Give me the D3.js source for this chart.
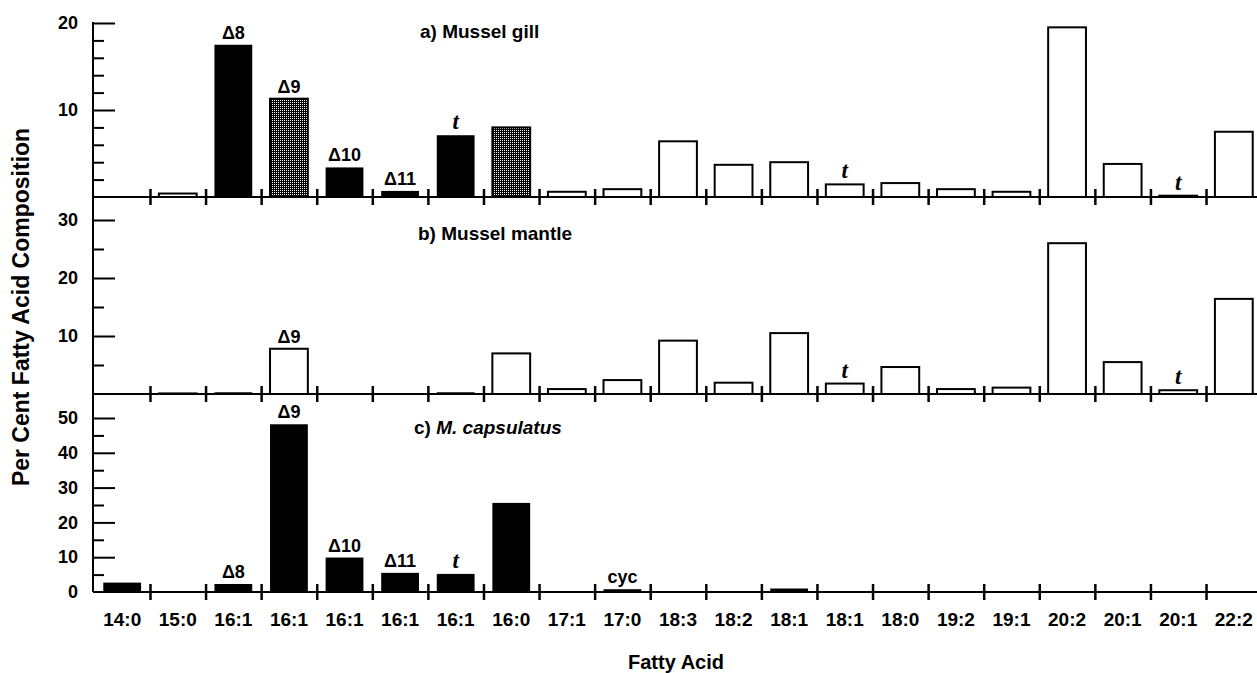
<!DOCTYPE html>
<html>
<head>
<meta charset="utf-8">
<script src="https://cdn.jsdelivr.net/npm/d3@7"></script>
<style>
body { margin: 0; background: #fff; }
text { font-family: "Liberation Sans", Arial, sans-serif; font-weight: bold; fill: #000; }
</style>
</head>
<body>
<svg id="chart" width="1257" height="673"></svg>
<script>
// categorias del eje x (se repiten los isomeros 16:1, 18:1, 20:1)
var categorias = ["14:0","15:0","16:1","16:1","16:1","16:1","16:1","16:0","17:1","17:0","18:3",
                  "18:2","18:1","18:1","18:0","19:2","19:1","20:2","20:1","20:1","22:2"];

// a) Mussel gill
var branquia = [0, 0.4, 17.5, 11.3, 3.4, 0.7, 7.1, 8.0, 0.6, 0.9, 6.4, 3.7, 4.0, 1.45, 1.6, 0.9, 0.6, 19.5, 3.8, 0.15, 7.5];
var rellenoBranquia = ["o","o","k","s","k","k","k","s","o","o","o","o","o","o","o","o","o","o","o","o","o"];
var notasBranquia = [[2,"Δ8"],[3,"Δ9"],[4,"Δ10"],[5,"Δ11"],[6,"t"],[13,"t"],[19,"t"]];

// b) Mussel mantle
var manto = [0, 0.1, 0.3, 7.8, 0.15, 0.15, 0.3, 7.0, 0.85, 2.4, 9.2, 1.95, 10.5, 1.8, 4.65, 0.85, 1.1, 26.0, 5.5, 0.65, 16.4];
var rellenoManto = ["o","o","k","o","k","k","k","o","o","o","o","o","o","o","o","o","o","o","o","o","o"];
var notasManto = [[3,"Δ9"],[13,"t"],[19,"t"]];

// c) M. capsulatus
var capsulatus = [2.7, 0, 2.3, 48.2, 9.9, 5.5, 5.2, 25.6, 0, 0.8, 0.1, 0, 1.0, 0.1, 0.1, 0, 0, 0, 0, 0, 0];
var notasCapsulatus = [[2,"Δ8"],[3,"Δ9"],[4,"Δ10"],[5,"Δ11"],[6,"t"],[9,"cyc"]];

var svg = d3.select("#chart");
var ejeX = 93, derecha = 1257;

var x = d3.scaleBand()
  .domain(d3.range(categorias.length))
  .range([94.4, 1261.6])
  .paddingInner(0.32)
  .paddingOuter(0.16);

// escala continua para las marcas entre categorias (limites de cada banda)
var xLimites = d3.scaleLinear()
  .domain([0, categorias.length])
  .range(x.range());

// patron punteado para las barras grises
var pat = svg.append("defs").append("pattern")
  .attr("id", "punteado").attr("width", 2).attr("height", 2)
  .attr("patternUnits", "userSpaceOnUse");
pat.append("rect").attr("width", 2).attr("height", 2).attr("fill", "#000");
pat.append("rect").attr("width", 1).attr("height", 1).attr("fill", "#fff");

var paneles = [
  { valores: branquia, relleno: rellenoBranquia, notas: notasBranquia,
    y: d3.scaleLinear().domain([0, 20]).range([197, 23]), techo: 23,
    mayores: [10, 20], menores: [2, 4, 6, 8, 12, 14, 16, 18], etiquetas: [10, 20],
    titulo: [["a) Mussel gill", "normal"]], tx: 420, ty: 38 },
  { valores: manto, relleno: rellenoManto, notas: notasManto,
    y: d3.scaleLinear().domain([0, 30]).range([394, 220]), techo: 197,
    mayores: [10, 20, 30], menores: [5, 15, 25], etiquetas: [10, 20, 30],
    titulo: [["b) Mussel mantle", "normal"]], tx: 418, ty: 240 },
  { valores: capsulatus, relleno: capsulatus.map(function() { return "k"; }), notas: notasCapsulatus,
    y: d3.scaleLinear().domain([0, 50]).range([592, 418]), techo: 394,
    mayores: [0, 10, 20, 30, 40, 50], menores: [5, 15, 25, 35, 45], etiquetas: [0, 10, 20, 30, 40, 50],
    titulo: [["c) ", "normal"], ["M. capsulatus", "italic"]], tx: 414, ty: 434 }
];

paneles.forEach(function(p) {
  var y = p.y;
  var base = y(0);
  var g = svg.append("g");

  // barras
  g.selectAll(".barra")
    .data(p.valores.map(function(v, i) { return {i: i, v: v, f: p.relleno[i]}; })
      .filter(function(d) { return d.v > 0; }))
    .enter().append("rect")
    .attr("class", "barra")
    .attr("x", function(d) { return x(d.i); })
    .attr("width", x.bandwidth())
    .attr("y", function(d) { return y(d.v); })
    .attr("height", function(d) { return base - y(d.v); })
    .attr("fill", function(d) { return d.f == "k" ? "#000" : (d.f == "s" ? "url(#punteado)" : "#fff"); })
    .attr("stroke", "#000")
    .attr("stroke-width", function(d) { return d.f == "k" ? 0 : 2; });

  // notas sobre las barras
  g.selectAll(".nota")
    .data(p.notas)
    .enter().append("text")
    .attr("class", "nota")
    .attr("x", function(d) { return x(d[0]) + x.bandwidth() / 2; })
    .attr("y", function(d) { return y(p.valores[d[0]]) - 6; })
    .attr("text-anchor", "middle")
    .style("font-size", function(d) { return d[1] == "t" ? "23px" : "18px"; })
    .style("font-style", function(d) { return d[1] == "t" ? "italic" : "normal"; })
    .style("font-family", function(d) { return d[1] == "t" ? "'Liberation Serif', serif" : null; })
    .text(function(d) { return d[1]; });

  // linea base
  g.append("line")
    .attr("x1", ejeX).attr("x2", derecha)
    .attr("y1", base).attr("y2", base)
    .attr("stroke", "#000").attr("stroke-width", 2);

  // marcas entre categorias (cruzan la linea base)
  var marcas = g.append("g")
    .attr("transform", "translate(0," + (base - 8) + ")")
    .call(d3.axisBottom(xLimites).tickValues(d3.range(1, categorias.length)).tickSize(16).tickFormat(""));
  marcas.select(".domain").remove();
  marcas.selectAll("line").attr("stroke", "#000").attr("stroke-width", 2.5);

  // eje y: marcas mayores, menores y numeros
  var mayor = g.append("g").attr("transform", "translate(" + ejeX + ",0)")
    .call(d3.axisRight(y).tickValues(p.mayores.filter(function(v) { return v > 0; })).tickSize(22).tickFormat(""));
  var menor = g.append("g").attr("transform", "translate(" + ejeX + ",0)")
    .call(d3.axisRight(y).tickValues(p.menores).tickSize(11).tickFormat(""));
  var numeros = g.append("g").attr("transform", "translate(" + ejeX + ",0)")
    .call(d3.axisLeft(y).tickValues(p.etiquetas).tickSize(0).tickPadding(15));
  [mayor, menor, numeros].forEach(function(a) {
    a.select(".domain").remove();
    a.selectAll("line").attr("stroke", "#000").attr("stroke-width", 2);
  });
  numeros.selectAll("text").style("font-size", "18px")
    .style("font-family", "'Liberation Sans', Arial, sans-serif");

  g.append("line")
    .attr("x1", ejeX).attr("x2", ejeX)
    .attr("y1", p.techo - 1).attr("y2", base)
    .attr("stroke", "#000").attr("stroke-width", 2);

  // titulo del panel
  var t = g.append("text").attr("x", p.tx).attr("y", p.ty).style("font-size", "19px");
  p.titulo.forEach(function(parte) {
    t.append("tspan").style("font-style", parte[1]).text(parte[0]);
  });
});

// etiquetas del eje x, debajo del ultimo panel
var ejeAbajo = svg.append("g")
  .attr("transform", "translate(0," + paneles[2].y(0) + ")")
  .call(d3.axisBottom(x).tickSize(0).tickPadding(21).tickFormat(function(i) { return categorias[i]; }));
ejeAbajo.select(".domain").remove();
ejeAbajo.selectAll("text").style("font-size", "19px")
  .style("font-family", "'Liberation Sans', Arial, sans-serif");

// titulos de los ejes
svg.append("text")
  .attr("transform", "translate(29,307) rotate(-90)")
  .attr("text-anchor", "middle")
  .style("font-size", "23px")
  .text("Per Cent Fatty Acid Composition");

svg.append("text")
  .attr("x", 676).attr("y", 669)
  .attr("text-anchor", "middle")
  .style("font-size", "20px")
  .text("Fatty Acid");
</script>
</body>
</html>
